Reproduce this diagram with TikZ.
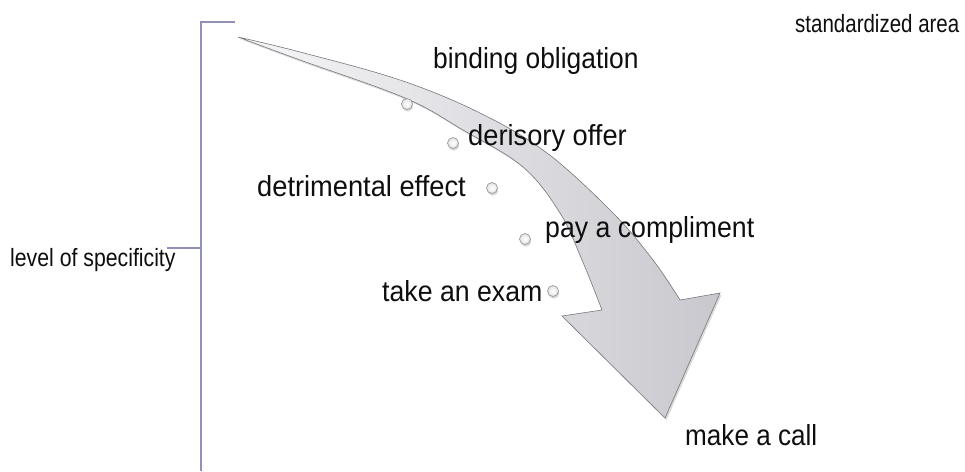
\documentclass[tikz,border=0pt]{standalone}
\usepackage{fontspec}
\setmainfont{Liberation Sans}
\usetikzlibrary{shadows}
\definecolor{brk}{RGB}{144,144,184}
\definecolor{headgray}{RGB}{200,200,206}
\definecolor{tailgray}{RGB}{246,246,248}
\definecolor{edgegray}{RGB}{120,120,124}
\definecolor{txt}{RGB}{14,14,14}
\tikzset{
  bigtxt/.style={anchor=base west, inner sep=0pt, text=txt, font=\fontsize{29}{32}\selectfont},
  smalltxt/.style={anchor=base west, inner sep=0pt, text=txt, font=\fontsize{25}{28}\selectfont},
  dot/.style={circle, minimum size=11pt, inner sep=0pt, draw=gray!80, line width=0.7pt,
              inner color=white, outer color=gray!22,
              drop shadow={opacity=0.3, shadow xshift=0.8pt, shadow yshift=-2.2pt}},
  bracket/.style={draw=brk, line width=2pt},
}
\begin{document}
\begin{tikzpicture}[x=1pt,y=-1pt]
\useasboundingbox (0,0) rectangle (965,471);
% bracket
\coordinate (bt) at (201,22);
\coordinate (bb) at (201,471);
\coordinate (btt) at (235,22);
\coordinate (bm) at (201,248);
\coordinate (bml) at (167,248);
\draw[bracket] (btt) -- (bt) -- (bb);
\draw[bracket] (bm) -- (bml);
% curved arrow
\path[draw=edgegray, line width=0.6pt, left color=tailgray, right color=headgray,
      drop shadow={opacity=0.3, shadow xshift=1.5pt, shadow yshift=-2pt}]
  plot[smooth, tension=0.6] coordinates {(238,37) (300,52) (400,80) (480,113) (547,153) (613,213) (653,260) (680,300)}
  -- (720,293) -- (665,418) -- (562,316) -- (602,310)
  -- plot[smooth, tension=0.6] coordinates {(602,310) (582,260) (560,213) (523,167) (463,130) (405,98) (300,60) (238,37)}
  -- cycle;
% dots
\node[dot] (c1) at (407,104) {};
\node[dot] (c2) at (453,143) {};
\node[dot] (c3) at (492,188) {};
\node[dot] (c4) at (525,239) {};
\node[dot] (c5) at (553,291) {};
% labels
\node[bigtxt] (t1) at (433,68) {\scalebox{0.91}[1]{binding obligation}};
\node[bigtxt] (t2) at (468,145) {\scalebox{0.94}[1]{derisory offer}};
\node[bigtxt] (t3) at (257,196.5) {\scalebox{0.94}[1]{detrimental effect}};
\node[bigtxt] (t4) at (545,237) {\scalebox{0.92}[1]{pay a compliment}};
\node[bigtxt] (t5) at (382,301) {\scalebox{0.92}[1]{take an exam}};
\node[bigtxt] (t6) at (685,445) {\scalebox{0.9}[1]{make a call}};
\node[smalltxt] (sa) at (795,32) {\scalebox{0.82}[1]{standardized area}};
\node[smalltxt] (ls) at (10,266) {\scalebox{0.85}[1]{level of specificity}};
\end{tikzpicture}
\end{document}
